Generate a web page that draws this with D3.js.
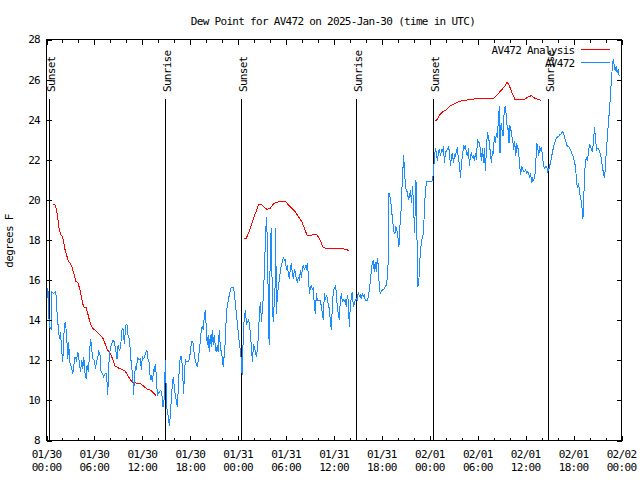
<!DOCTYPE html>
<html><head><meta charset="utf-8">
<script src="https://cdn.jsdelivr.net/npm/d3@7/dist/d3.min.js"></script>
<style>
body{margin:0;background:#fff}
svg text{font-family:"DejaVu Sans Mono",monospace;font-size:11px;letter-spacing:-0.7px;fill:#000}
</style>
</head><body>
<svg id="chart" width="640" height="480"></svg>
<script>
// ---------- data ----------
const chartTitle = "Dew Point for AV472 on 2025-Jan-30 (time in UTC)";
const yAxisLabel = "degrees F";
const seriesNames = ["AV472 Analysis", "AV472"];
const seriesColors = ["#ff0000", "#1a8cff"];

// hours since 2025-01-30 00:00 UTC
const xTickHours = [0, 6, 12, 18, 24, 30, 36, 42, 48, 54, 60, 66, 72];
const xTickDates = ["01/30","01/30","01/30","01/30","01/31","01/31","01/31","01/31","02/01","02/01","02/01","02/01","02/02"];
const xTickTimes = ["00:00","06:00","12:00","18:00","00:00","06:00","12:00","18:00","00:00","06:00","12:00","18:00","00:00"];
const xMinorHours = [2,4,8,10,14,16,20,22,26,28,32,34,38,40,44,46,50,52,56,58,62,64,68,70];
const yTicks = [8, 10, 12, 14, 16, 18, 20, 22, 24, 26, 28];

const sunLabels = ["Sunset","Sunrise","Sunset","Sunrise","Sunset","Sunrise"];
const sunHours  = [0.29, 14.79, 24.32, 38.71, 48.35, 62.75];

// analysis (null = gap)
const analysisHours = [0.79,1.04,1.21,1.42,1.58,1.75,2.0,2.17,2.33,2.54,2.75,3.0,3.17,3.42,3.67,3.92,4.08,4.25,4.42,4.63,4.96,5.17,5.38,5.58,5.79,6.0,6.33,6.75,7.08,7.33,7.58,7.88,8.08,8.33,8.58,9.0,9.42,9.83,10.17,10.5,10.79,11.21,11.83,12.25,12.67,13.08,13.42,13.71,
  19.0,
  24.79,25.0,25.29,25.59,25.91,26.25,26.54,26.84,27.16,27.59,28.0,28.41,28.84,29.46,30.0,30.29,30.71,31.13,31.54,31.96,32.38,32.66,33.21,33.75,34.16,34.66,35.09,37.09,37.38,37.91,
  43.0,
  48.63,48.91,49.25,49.66,50.09,50.5,50.91,51.66,52.16,53.0,54.46,56.0,56.75,57.38,57.66,57.91,58.21,58.63,59.88,60.29,60.71,61.13,61.66,61.96];
const analysisDewF = [19.78,19.78,19.58,19.08,18.58,18.28,18.17,17.83,17.5,17.22,16.92,16.83,16.67,16.33,15.95,15.88,15.67,15.42,15.08,14.67,14.62,14.33,14.0,13.75,13.58,13.53,13.42,13.25,13.08,12.83,12.55,12.42,12.28,12.0,11.72,11.62,11.55,11.47,11.25,11.03,10.88,10.87,10.83,10.67,10.55,10.5,10.37,10.25,
  null,
  18.08,18.08,18.33,18.67,19.08,19.42,19.75,19.8,19.67,19.53,19.58,19.8,19.88,19.93,19.9,19.75,19.58,19.42,19.17,18.92,18.5,18.2,18.25,18.3,18.08,17.62,17.58,17.58,17.53,17.48,
  null,
  23.95,24.0,24.25,24.42,24.5,24.67,24.75,24.92,24.95,25.0,25.08,25.08,25.38,25.67,25.88,25.75,25.42,25.03,25.03,25.13,25.2,25.08,25.0,24.97];

// observations
const obsHours = [0.08,0.17,0.25,0.3,0.375,0.58,0.67,0.92,1.08,1.21,1.33,1.5,1.63,1.75,1.92,2.04,2.17,2.33,2.5,2.67,2.79,2.88,3.0,3.17,3.29,3.42,3.58,3.75,3.92,4.08,4.25,4.42,4.54,4.67,4.83,4.96,5.08,5.25,5.42,5.54,5.67,5.79,6.0,6.13,6.25,6.42,6.54,6.71,6.83,7.0,7.17,7.33,7.5,7.63,7.67,7.75,7.88,8.0,8.17,8.33,8.5,8.67,8.83,8.96,9.13,9.29,9.42,9.58,9.75,9.92,10.08,10.21,10.38,10.5,10.63,10.79,10.92,11.0,11.13,11.25,11.42,11.58,11.75,11.88,12.0,12.17,12.33,12.46,12.58,12.71,12.83,12.92,13.0,13.13,13.25,13.33,13.42,13.5,13.63,13.75,13.88,14.0,14.13,14.25,14.42,
  14.58,14.75,14.88,14.96,15.08,15.25,15.38,15.5,15.63,15.75,15.88,16.0,16.13,16.25,16.38,16.5,16.63,16.75,16.92,17.04,17.17,17.29,17.42,17.58,17.75,17.92,18.04,18.17,18.33,18.46,18.58,18.75,18.88,19.0,19.13,19.25,19.38,19.5,19.63,19.75,19.88,20.0,20.13,20.25,20.38,20.5,20.63,20.75,20.88,21.0,21.13,21.25,21.38,21.5,21.63,21.75,21.88,22.0,22.13,22.25,22.38,22.5,22.63,22.75,22.88,23.0,23.13,23.38,23.5,23.63,23.75,23.88,24.0,24.13,24.25,24.38,24.5,24.58,24.67,24.79,24.92,25.04,25.17,25.29,25.42,25.54,25.67,25.79,25.92,26.04,26.17,26.29,26.42,26.54,26.67,26.79,26.92,27.04,27.17,27.29,27.42,27.54,27.67,27.79,27.88,28.0,28.13,28.25,28.38,28.5,28.63,28.7,
  28.79,28.92,29.04,29.17,29.29,29.42,29.54,29.67,29.79,29.92,30.04,30.17,30.29,30.42,30.54,30.67,30.79,30.92,31.04,31.17,31.29,31.42,31.54,31.67,31.79,31.92,32.04,32.17,32.29,32.42,32.54,32.67,32.79,32.92,33.04,33.17,33.29,33.42,33.54,33.67,33.79,33.92,34.04,34.17,34.29,34.42,34.54,34.67,34.79,34.92,35.04,35.17,35.29,35.42,35.54,35.67,35.79,35.92,36.04,36.17,36.29,36.42,36.54,36.67,36.79,36.92,37.04,37.17,37.29,37.42,37.54,37.67,37.79,37.92,38.04,38.17,38.29,38.42,38.54,38.67,38.79,38.92,39.04,39.17,39.29,39.42,39.54,39.67,39.79,39.92,40.04,40.17,40.29,40.42,40.54,40.67,40.79,40.92,41.04,41.17,41.29,41.42,41.54,41.67,41.79,41.92,42.04,42.17,42.29,42.42,42.54,42.67,42.79,42.88,
  43.0,43.13,43.25,43.38,43.5,43.63,43.75,43.88,44.0,44.13,44.25,44.38,44.5,44.63,44.71,44.83,44.96,45.08,45.21,45.33,45.46,45.58,45.71,45.83,45.96,46.08,46.17,46.25,46.33,46.42,46.5,46.63,46.75,46.88,47.0,47.13,47.25,47.38,47.5,47.63,47.75,47.88,48.0,48.13,48.25,48.33,48.46,48.58,48.71,48.83,48.96,49.08,49.21,49.33,49.46,49.58,49.71,49.83,49.96,50.08,50.21,50.33,50.46,50.58,50.71,50.83,50.96,51.08,51.21,51.33,51.46,51.58,51.71,51.83,51.96,52.08,52.21,52.33,52.46,52.58,52.71,52.83,52.96,53.08,53.21,53.33,53.46,53.58,53.71,53.83,53.96,54.08,54.21,54.33,54.46,54.58,54.71,54.83,54.96,55.08,55.21,55.33,55.46,55.58,55.71,55.83,55.96,56.08,56.21,56.33,56.46,56.58,56.71,56.79,56.92,57.04,57.17,57.29,57.42,57.54,57.71,57.79,57.92,
  58.0,58.13,58.25,58.38,58.5,58.63,58.75,58.88,59.0,59.13,59.25,59.38,59.5,59.63,59.75,59.88,60.0,60.13,60.25,60.38,60.5,60.63,60.75,60.88,61.0,61.13,61.25,61.38,61.5,61.63,61.75,61.88,62.0,62.13,62.25,62.38,62.5,62.63,62.75,62.88,63.0,63.13,63.25,63.38,63.5,63.63,63.75,63.88,64.0,64.13,64.25,64.38,64.5,64.63,64.75,64.88,65.0,65.13,65.25,65.38,65.5,65.63,65.75,65.88,66.0,66.13,66.25,66.38,66.5,66.63,66.75,66.88,67.0,67.08,67.17,67.25,67.38,67.5,67.63,67.75,67.88,68.0,68.13,68.25,68.38,68.5,68.63,68.75,68.88,69.0,69.13,69.25,69.38,69.5,69.63,69.75,69.88,69.96,70.08,70.21,70.33,70.46,70.58,70.71,70.83,70.96,71.08,71.21,71.33,71.46,71.58,71.71];
const obsDewF = [15.1,15.58,15.08,14.17,13.67,13.58,15.42,15.33,15.42,15.25,14.33,13.5,13.08,13.42,12.42,11.92,13.25,13.92,13.42,12.08,12.92,11.92,11.83,11.58,11.33,11.75,12.17,12.0,12.42,12.0,11.42,12.0,11.58,12.17,11.33,11.08,11.75,11.42,12.58,13.05,12.5,12.08,12.0,11.58,11.92,12.17,12.42,12.25,11.42,11.33,11.17,11.33,11.33,10.67,10.25,11.25,12.33,12.58,12.83,13.0,12.92,12.5,12.08,12.75,12.5,12.67,13.5,13.58,12.83,13.75,13.78,13.25,13.08,12.42,11.75,11.25,10.25,11.17,11.67,11.58,12.17,12.0,12.08,11.5,12.17,12.08,12.25,12.42,12.5,12.08,11.92,11.58,11.0,11.25,10.92,11.17,11.58,11.42,11.83,11.25,10.25,10.33,10.42,10.5,10.42,
  9.67,10.08,12.0,10.92,9.58,9.17,8.75,9.17,10.08,10.75,11.17,10.67,10.25,10.0,9.67,10.58,11.58,12.17,12.17,11.42,10.33,11.58,12.0,11.92,11.92,12.08,12.58,12.92,12.92,12.42,12.08,11.83,11.67,12.0,12.5,12.92,13.5,13.67,13.5,14.17,14.5,13.67,12.75,13.25,12.42,13.25,12.67,13.5,12.75,13.25,12.75,12.42,12.75,12.42,13.5,12.75,12.42,12.17,11.67,12.25,12.92,14.08,14.75,14.92,15.25,15.42,15.63,15.63,15.42,14.92,14.42,13.92,13.42,12.92,12.58,12.08,11.25,12.42,13.58,14.25,14.5,13.75,13.92,14.0,13.83,13.25,12.58,11.92,12.83,12.58,12.42,12.17,12.58,13.25,14.42,14.92,13.92,14.58,15.25,16.58,18.08,19.17,17.75,14.33,12.75,16.92,18.58,15.92,13.92,14.75,15.75,18.6,
  14.33,15.33,15.67,16.08,16.5,16.75,16.92,17.17,16.97,17.0,16.5,16.75,16.25,16.08,16.58,16.83,16.33,16.08,16.53,16.42,16.0,15.92,16.17,15.97,16.5,16.13,16.58,16.75,16.5,16.7,16.58,16.83,16.25,15.33,15.58,15.75,15.5,15.67,14.67,14.33,15.33,15.0,15.0,15.0,15.0,14.67,14.33,14.0,15.33,15.0,15.25,15.08,14.75,14.58,13.92,13.5,14.67,15.5,15.58,15.67,15.42,14.58,14.33,14.0,15.0,15.33,14.92,15.0,14.92,15.0,14.67,15.25,15.0,13.67,14.67,15.17,15.42,14.67,14.83,15.0,15.08,15.0,15.42,15.17,15.25,15.08,15.33,15.17,15.25,15.0,14.97,15.0,15.17,15.5,15.92,16.42,16.83,17.0,16.42,16.92,16.42,17.08,16.75,15.67,15.33,15.42,15.5,15.53,15.58,15.67,15.75,16.08,16.92,20.33,
  20.17,19.83,19.33,18.83,18.42,18.33,18.67,18.5,18.17,17.67,18.67,19.33,20.5,21.5,22.25,21.5,20.58,20.5,20.33,20.0,20.17,20.5,19.83,20.67,19.83,18.33,19.5,21.0,20.5,17.0,15.67,16.0,17.0,17.67,18.0,18.17,18.83,20.0,20.67,20.92,20.92,20.92,20.92,20.92,20.92,21.0,21.33,22.17,22.58,22.33,21.92,22.42,22.5,22.17,22.5,22.42,22.67,21.83,22.42,22.42,22.53,22.63,22.42,21.67,22.17,22.33,21.83,22.25,22.17,22.5,22.58,22.0,21.83,21.08,21.83,22.17,22.67,22.58,22.75,22.33,22.17,22.58,21.67,22.25,22.33,22.08,22.25,21.92,22.33,22.0,23.0,22.92,22.83,22.5,21.92,22.58,21.83,22.58,21.42,22.5,23.37,23.17,22.83,22.33,21.83,22.42,22.33,23.17,22.83,23.33,23.08,24.0,24.7,22.33,23.83,23.5,23.17,24.25,24.67,24.33,23.5,23.58,22.83,
  23.75,23.58,23.17,23.0,22.5,22.92,22.17,22.75,22.67,22.33,21.67,21.25,21.67,21.5,21.42,21.42,21.5,21.33,21.42,21.33,21.08,21.33,20.83,21.08,21.0,21.08,21.67,22.83,22.67,22.17,22.67,22.5,22.58,22.08,21.67,21.58,21.67,21.67,21.42,21.5,21.67,21.92,22.17,22.42,22.67,22.83,23.0,23.08,23.17,23.17,23.25,23.25,23.33,23.42,23.33,23.08,23.0,22.75,22.67,22.67,22.58,22.5,22.33,22.25,22.08,21.83,21.67,20.83,20.58,20.83,20.33,20.17,19.75,19.5,19.03,19.83,21.25,22.0,22.08,21.92,22.5,22.75,22.67,22.5,22.42,23.0,23.63,23.0,22.5,22.58,22.58,22.42,22.25,22.0,21.58,21.33,21.08,21.5,22.33,23.0,23.67,24.33,25.0,25.83,26.5,27.03,26.75,26.42,26.67,26.33,26.5,26.17];

// ---------- chart ----------
const svg = d3.select("#chart").attr("shape-rendering", "crispEdges");
const x = d3.scaleLinear().domain([0, 72]).range([46.5, 621.5]);
const y = d3.scaleLinear().domain([8, 28]).range([440.5, 39.5]);

const line = d3.line().defined(d => d[1] != null).x(d => x(d[0])).y(d => y(d[1]));

// sunrise / sunset lines
svg.append("g").selectAll("line").data(sunHours).join("line")
  .attr("x1", d => Math.round(x(d)) + 0.5).attr("x2", d => Math.round(x(d)) + 0.5)
  .attr("y1", 99).attr("y2", y(8))
  .attr("stroke", "#000").attr("stroke-width", 1);

// series
const analysisPts = analysisHours.map((h, i) => [h, analysisDewF[i]]);
const obsPts = obsHours.map((h, i) => [h, obsDewF[i]]);
svg.append("path").datum(analysisPts).attr("d", line)
  .attr("fill", "none").attr("stroke", seriesColors[0]).attr("stroke-width", 1);
svg.append("path").datum(obsPts).attr("d", line)
  .attr("fill", "none").attr("stroke", seriesColors[1]).attr("stroke-width", 1);

// axes (inward ticks)
function styleAxis(g) { g.select(".domain").remove(); g.selectAll("line").attr("stroke", "#000"); g.selectAll("text").remove(); }
svg.append("g").attr("transform", `translate(0,${y(8)})`)
  .call(d3.axisBottom(x).tickValues(xTickHours).tickSize(-5).tickFormat("")).call(styleAxis);
svg.append("g").attr("transform", `translate(0,${y(8)})`)
  .call(d3.axisBottom(x).tickValues(xMinorHours).tickSize(-3).tickFormat("")).call(styleAxis);
svg.append("g").attr("transform", `translate(0,${y(28)})`)
  .call(d3.axisTop(x).tickValues(xTickHours).tickSize(-5).tickFormat("")).call(styleAxis);
svg.append("g").attr("transform", `translate(0,${y(28)})`)
  .call(d3.axisTop(x).tickValues(xMinorHours).tickSize(-3).tickFormat("")).call(styleAxis);
svg.append("g").attr("transform", `translate(${x(0)},0)`)
  .call(d3.axisLeft(y).tickValues(yTicks).tickSize(-5).tickFormat("")).call(styleAxis);
svg.append("g").attr("transform", `translate(${x(72)},0)`)
  .call(d3.axisRight(y).tickValues(yTicks).tickSize(-5).tickFormat("")).call(styleAxis);

// frame
svg.append("rect").attr("x", x(0)).attr("y", y(28))
  .attr("width", x(72) - x(0)).attr("height", y(8) - y(28))
  .attr("fill", "none").attr("stroke", "#000").attr("stroke-width", 1);

// tick labels
const tl = svg.append("g");
tl.selectAll("text.yl").data(yTicks).join("text").attr("class", "yl")
  .attr("x", 40).attr("y", d => y(d)).attr("dy", "0.36em").attr("text-anchor", "end").text(d => d);
xTickHours.forEach((h, i) => {
  tl.append("text").attr("x", x(h)).attr("y", 457.5).attr("text-anchor", "middle").text(xTickDates[i]);
  tl.append("text").attr("x", x(h)).attr("y", 471).attr("text-anchor", "middle").text(xTickTimes[i]);
});

// sun labels
svg.append("g").selectAll("text").data(sunHours).join("text")
  .attr("transform", d => `translate(${Math.round(x(d)) + 5.5},92) rotate(-90)`)
  .text((d, i) => sunLabels[i]);

// title and axis label
svg.append("text").attr("x", 333).attr("y", 24.5).attr("text-anchor", "middle").text(chartTitle);
svg.append("text").attr("transform", "translate(13,241) rotate(-90)").attr("text-anchor", "middle").text(yAxisLabel);

// legend
const lg = svg.append("g");
seriesNames.forEach((name, i) => {
  const ly = 49.5 + i * 13;
  lg.append("text").attr("x", 574.5).attr("y", ly + 4.5).attr("text-anchor", "end").text(name);
  lg.append("line").attr("x1", 581).attr("x2", 610).attr("y1", ly).attr("y2", ly)
    .attr("stroke", seriesColors[i]).attr("stroke-width", 1);
});
</script>
</body></html>
